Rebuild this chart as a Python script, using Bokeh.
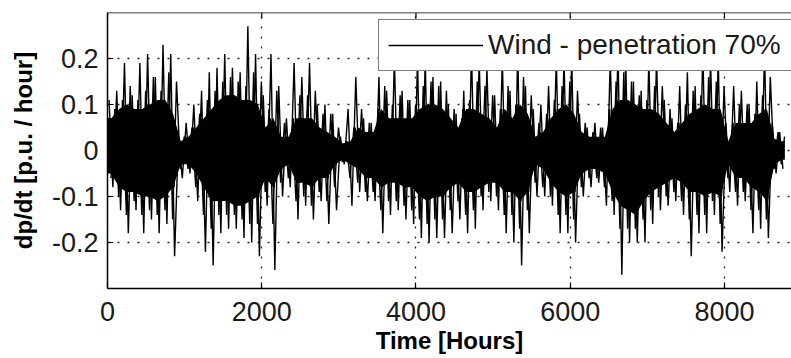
from bokeh.plotting import figure
from bokeh.models import Range1d, FixedTicker, Legend, LegendItem, Span
from bokeh.embed import file_html
from bokeh.resources import INLINE

# ---- data (hourly dp/dt envelope, 100-hour bins) ----
bin_start = list(range(0, 8800, 100))[:88]        # start hour of each bin
bin_end = bin_start[1:] + [8784]

# tallest spikes in each bin
peak_hi = [0.11, 0.13, 0.19, 0.12, 0.19, 0.21, 0.16, 0.23, 0.21, 0.03,
           0.06, 0.10, 0.13, 0.17, 0.18, 0.21, 0.18, 0.17, 0.27, 0.21,
           0.12, 0.21, 0.14, 0.07, 0.19, 0.16, 0.19, 0.10, 0.10, 0.08,
           0.03, 0.09, 0.16, 0.07, 0.06, 0.16, 0.13, 0.20, 0.13, 0.11,
           0.20, 0.20, 0.16, 0.15, 0.10, 0.08, 0.13, 0.22, 0.20, 0.18,
           0.12, 0.20, 0.13, 0.22, 0.14, 0.09, 0.10, 0.14, 0.20, 0.20,
           0.20, 0.08, 0.05, 0.06, 0.05, 0.20, 0.22, 0.20, 0.15, 0.13,
           0.20, 0.20, 0.11, 0.07, 0.14, 0.17, 0.14, 0.22, 0.20, 0.20,
           0.06, 0.14, 0.13, 0.10, 0.15, 0.22, 0.06, 0.04]

peak_lo = [-0.08, -0.13, -0.18, -0.13, -0.18, -0.15, -0.18, -0.16, -0.23, -0.06,
           -0.05, -0.11, -0.22, -0.25, -0.18, -0.17, -0.17, -0.19, -0.20, -0.23,
           -0.12, -0.26, -0.10, -0.08, -0.15, -0.12, -0.15, -0.11, -0.16, -0.13,
           -0.03, -0.12, -0.09, -0.11, -0.11, -0.18, -0.14, -0.13, -0.15, -0.16,
           -0.19, -0.20, -0.19, -0.19, -0.18, -0.15, -0.18, -0.17, -0.13, -0.11,
           -0.13, -0.18, -0.20, -0.25, -0.18, -0.10, -0.10, -0.12, -0.18, -0.18,
           -0.20, -0.10, -0.08, -0.07, -0.12, -0.14, -0.27, -0.20, -0.20, -0.20,
           -0.16, -0.13, -0.12, -0.11, -0.14, -0.23, -0.18, -0.18, -0.14, -0.22,
           -0.09, -0.12, -0.11, -0.18, -0.17, -0.19, -0.05, -0.04]

# second-tallest spikes in each bin
sec_hi = [0.09, 0.11, 0.14, 0.11, 0.13, 0.16, 0.13, 0.17, 0.15, 0.03,
          0.05, 0.08, 0.11, 0.13, 0.15, 0.16, 0.15, 0.14, 0.17, 0.15,
          0.09, 0.13, 0.06, 0.05, 0.12, 0.12, 0.13, 0.08, 0.08, 0.05,
          0.02, 0.05, 0.09, 0.06, 0.05, 0.14, 0.10, 0.12, 0.11, 0.10,
          0.14, 0.15, 0.14, 0.13, 0.09, 0.07, 0.11, 0.15, 0.14, 0.12,
          0.09, 0.14, 0.10, 0.16, 0.12, 0.06, 0.08, 0.11, 0.14, 0.15,
          0.13, 0.06, 0.04, 0.05, 0.04, 0.15, 0.17, 0.15, 0.12, 0.11,
          0.14, 0.14, 0.09, 0.06, 0.10, 0.13, 0.12, 0.16, 0.15, 0.14,
          0.04, 0.10, 0.10, 0.08, 0.12, 0.16, 0.04, 0.03]

sec_lo = [-0.06, -0.10, -0.14, -0.11, -0.14, -0.13, -0.14, -0.13, -0.15, -0.04,
          -0.04, -0.08, -0.14, -0.17, -0.14, -0.14, -0.14, -0.15, -0.16, -0.16,
          -0.09, -0.16, -0.07, -0.06, -0.11, -0.10, -0.12, -0.09, -0.11, -0.08,
          -0.025, -0.06, -0.07, -0.09, -0.09, -0.13, -0.11, -0.11, -0.12, -0.13,
          -0.15, -0.16, -0.15, -0.15, -0.13, -0.11, -0.14, -0.13, -0.10, -0.09,
          -0.10, -0.14, -0.14, -0.17, -0.13, -0.07, -0.08, -0.10, -0.14, -0.14,
          -0.15, -0.08, -0.06, -0.06, -0.08, -0.11, -0.17, -0.17, -0.17, -0.15,
          -0.13, -0.10, -0.10, -0.09, -0.11, -0.15, -0.14, -0.14, -0.11, -0.16,
          -0.06, -0.09, -0.09, -0.13, -0.13, -0.15, -0.04, -0.03]

# solid (dense) band in each bin
core_hi = [0.07, 0.09, 0.10, 0.09, 0.09, 0.10, 0.11, 0.11, 0.08, 0.02,
           0.03, 0.05, 0.07, 0.09, 0.11, 0.12, 0.12, 0.11, 0.11, 0.10,
           0.05, 0.07, 0.03, 0.03, 0.07, 0.07, 0.07, 0.05, 0.04, 0.03,
           0.015, 0.02, 0.05, 0.04, 0.04, 0.09, 0.07, 0.07, 0.07, 0.07,
           0.09, 0.10, 0.10, 0.09, 0.07, 0.05, 0.09, 0.09, 0.08, 0.07,
           0.05, 0.09, 0.07, 0.10, 0.08, 0.03, 0.04, 0.07, 0.09, 0.10,
           0.08, 0.04, 0.03, 0.03, 0.03, 0.09, 0.11, 0.11, 0.10, 0.09,
           0.09, 0.08, 0.06, 0.04, 0.06, 0.08, 0.09, 0.10, 0.09, 0.09,
           0.02, 0.06, 0.06, 0.06, 0.08, 0.09, 0.025, 0.02]

core_lo = [-0.05, -0.08, -0.09, -0.09, -0.10, -0.10, -0.11, -0.10, -0.08, -0.03,
           -0.03, -0.05, -0.08, -0.11, -0.11, -0.11, -0.12, -0.12, -0.11, -0.10,
           -0.06, -0.08, -0.04, -0.03, -0.07, -0.07, -0.08, -0.06, -0.06, -0.03,
           -0.02, -0.03, -0.04, -0.06, -0.06, -0.08, -0.07, -0.07, -0.08, -0.08,
           -0.10, -0.11, -0.10, -0.10, -0.08, -0.07, -0.09, -0.09, -0.08, -0.07,
           -0.07, -0.09, -0.09, -0.11, -0.09, -0.03, -0.04, -0.07, -0.09, -0.10,
           -0.09, -0.05, -0.04, -0.04, -0.05, -0.09, -0.12, -0.13, -0.14, -0.11,
           -0.09, -0.08, -0.07, -0.06, -0.07, -0.09, -0.09, -0.10, -0.09, -0.10,
           -0.03, -0.06, -0.06, -0.08, -0.09, -0.11, -0.03, -0.02]

x_ticks = [0, 2000, 4000, 6000, 8000]
y_ticks = [-0.2, -0.1, 0, 0.1, 0.2]
y_tick_labels = {-0.2: "-0.2", -0.1: "-0.1", 0: "0", 0.1: "0.1", 0.2: "0.2"}
legend_label = "Wind - penetration 70%"
x_label = "Time [Hours]"
y_label = "dp/dt [p.u. / hour]"

X_MAX = 8870
Y_MIN, Y_MAX = -0.3, 0.3

# ---- build the drawing tables ----
centers = [(s + e) / 2 for s, e in zip(bin_start, bin_end)]
band_x = [bin_start[0]] + centers + [bin_end[-1]]
band_top = [core_hi[0]] + core_hi + [core_hi[-1]]
band_bot = [core_lo[0]] + core_lo + [core_lo[-1]]

# hourly swings reaching the band limits (two strokes per bin)
core_x, core_y = [], []
for s, e, h, l in zip(bin_start, bin_end, core_hi, core_lo):
    w = e - s
    core_x += [s + 0.1 * w, s + 0.6 * w]
    core_y += [h, l]

spike_x, spike_y = [], []
for s, e, h, l in zip(bin_start, bin_end, peak_hi, peak_lo):
    w = e - s
    spike_x += [s + 0.2 * w, s + 0.7 * w]
    spike_y += [h, l]

sec_x, sec_y = [], []
for s, e, h, l in zip(bin_start, bin_end, sec_hi, sec_lo):
    w = e - s
    sec_x += [s + 0.45 * w, s + 0.95 * w]
    sec_y += [l, h]

FONT = "Liberation Sans"

p = figure(width=791, height=358, output_backend="svg", toolbar_location=None,
           x_range=Range1d(0, X_MAX), y_range=Range1d(Y_MIN, Y_MAX),
           min_border_left=107, min_border_right=0, min_border_top=12,
           min_border_bottom=70, background_fill_color="white",
           border_fill_color="white")
p.outline_line_color = None

# grid
for g in (p.xgrid, p.ygrid):
    g.grid_line_color = "#000000"
    g.grid_line_dash = "2 8"
    g.grid_line_width = 1.3
    g.grid_line_alpha = 0.85
p.xgrid.ticker = FixedTicker(ticks=x_ticks)
p.ygrid.ticker = FixedTicker(ticks=y_ticks)

# series
p.varea(x=band_x, y1=band_bot, y2=band_top, fill_color="black")
p.line(core_x, core_y, line_color="black", line_width=1.6)
p.line(sec_x, sec_y, line_color="black", line_width=1.4)
r = p.line(spike_x, spike_y, line_color="black", line_width=1.4)

# axes
xa = p.xaxis[0]
xa.ticker = FixedTicker(ticks=x_ticks)
xa.axis_label = x_label
ya = p.yaxis[0]
ya.ticker = FixedTicker(ticks=y_ticks)
ya.major_label_overrides = y_tick_labels
ya.axis_label = y_label
for ax in (xa, ya):
    ax.major_tick_in = 6
    ax.major_tick_out = 0
    ax.minor_tick_line_color = None
    ax.axis_line_width = 1.5
    ax.axis_line_color = "black"
    ax.major_tick_line_color = "black"
    ax.major_tick_line_width = 1.2
    ax.major_label_text_font = FONT
    ax.major_label_text_font_size = "27px"
    ax.major_label_text_color = "#1a1a1a"
    ax.axis_label_text_font = FONT
    ax.axis_label_text_font_size = "24px"
    ax.axis_label_text_font_style = "bold"
    ax.axis_label_text_color = "black"
xa.major_label_standoff = 13
xa.axis_label_standoff = 3
ya.major_label_standoff = 9
ya.axis_label_standoff = 12

# top border and its inward ticks
p.add_layout(Span(location=Y_MAX, dimension="width", line_color="black", line_width=1.5))
tick_len = 6 * (Y_MAX - Y_MIN) / 276
p.segment(x0=x_ticks, x1=x_ticks, y0=[Y_MAX] * len(x_ticks),
          y1=[Y_MAX - tick_len] * len(x_ticks), line_color="black", line_width=1.2)

legend = Legend(items=[LegendItem(label=legend_label, renderers=[r])],
                location=(271, 217))
legend.label_text_font = FONT
legend.label_text_font_size = "28px"
legend.label_text_color = "#1a1a1a"
legend.glyph_width = 95
legend.glyph_height = 20
legend.label_standoff = 5
legend.label_width = 294
legend.padding = 9
legend.margin = 0
legend.border_line_color = "black"
legend.border_line_width = 1.2
legend.background_fill_color = "white"
legend.background_fill_alpha = 1.0
p.add_layout(legend, "center")

open("out.html", "w").write(file_html(p, INLINE))
